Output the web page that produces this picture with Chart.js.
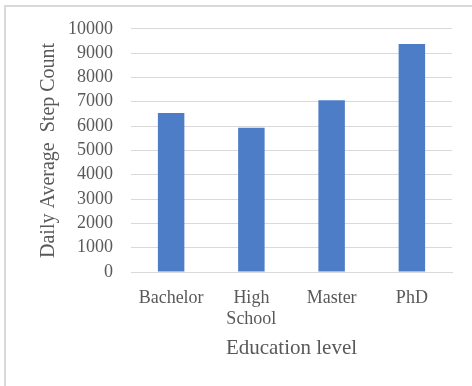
<!DOCTYPE html>
<html><head><meta charset="utf-8">
<script src="https://cdn.jsdelivr.net/npm/chart.js@4"></script>
<style>
html,body{margin:0;padding:0;background:#fff;}
#wrap{position:relative;width:472px;height:386px;}
#frame{position:absolute;left:4px;top:5px;width:480px;height:400px;border-top:2px solid #d9d9d9;border-left:2px solid #d9d9d9;pointer-events:none;}
canvas{position:absolute;left:0;top:0;}
</style></head>
<body>
<div id="wrap"><canvas id="c" width="472" height="386"></canvas><div id="frame"></div></div>
<script>
const categories = [["Bachelor"], ["High", "School"], ["Master"], ["PhD"]];
const stepCounts = [6540, 5930, 7060, 9370];
const yTicks = [0,1000,2000,3000,4000,5000,6000,7000,8000,9000,10000];
const yTitle = "Daily Average  Step Count";
const xTitle = "Education level";

const FONT = "'Liberation Serif', 'Times New Roman', serif";
new Chart(document.getElementById('c'), {
  type: 'bar',
  data: { labels: categories, datasets: [{ data: stepCounts, backgroundColor: '#4e7dc8', categoryPercentage: 1, barPercentage: 0.33 }] },
  options: {
    responsive: false, animation: false,
    layout: { padding: { top: 26, right: 20, bottom: 0, left: 0 } },
    plugins: { legend: { display: false }, tooltip: { enabled: false } },
    scales: {
      y: {
        min: 0, max: 10000,
        afterBuildTicks: s => { s.ticks = yTicks.map(v => ({ value: v })); },
        afterFit: s => { s.width = 131; },
        ticks: { color: '#595959', font: { family: FONT, size: 18 }, padding: 18, autoSkip: false, callback: v => String(v) },
        grid: { color: '#d9d9d9', drawTicks: false },
        border: { display: false },
        title: { display: true, text: yTitle, color: '#595959', font: { family: FONT, size: 20 }, padding: { top: 37, bottom: 0 } }
      },
      x: {
        afterFit: s => { s.height = 114; },
        ticks: { color: '#595959', font: { family: FONT, size: 18 }, padding: 15, maxRotation: 0, autoSkip: false },
        grid: { display: false, drawTicks: false },
        border: { display: true, color: '#d9d9d9' },
        title: { display: true, text: xTitle, color: '#595959', font: { family: FONT, size: 21 }, padding: { top: 0, bottom: 25 } }
      }
    }
  }
});
</script>
</body></html>
